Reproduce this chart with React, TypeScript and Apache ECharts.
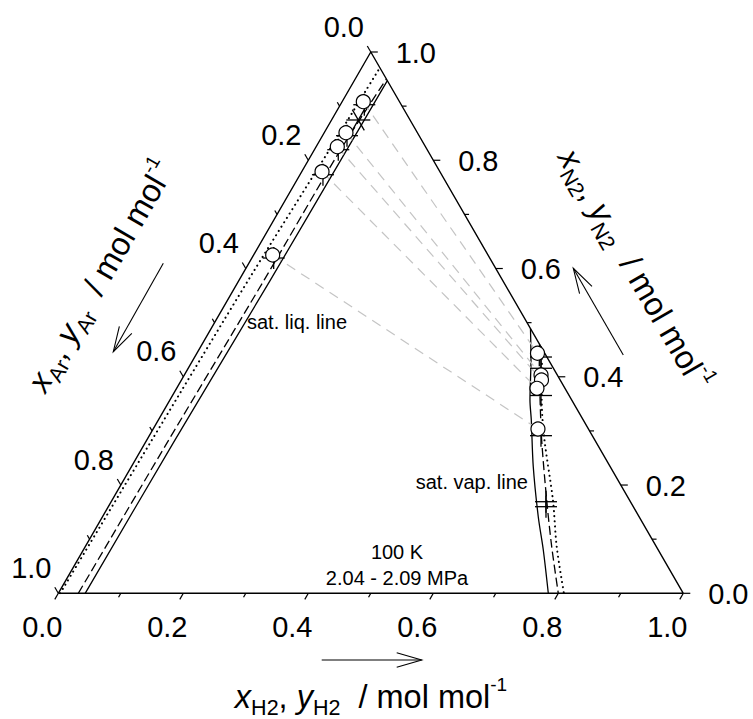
import React, { useEffect, useRef } from 'react';
import * as echarts from 'echarts';

const S3 = Math.sqrt(3) / 2;
const FONT = '"Liberation Sans", Arial, Helvetica, sans-serif';

// Ternary axis ticks (fractions) and labels
const TICK_VALUES = [0, 0.1, 0.2, 0.3, 0.4, 0.5, 0.6, 0.7, 0.8, 0.9, 1.0];
const TICK_LABELS = ['0.0', '', '0.2', '', '0.4', '', '0.6', '', '0.8', '', '1.0'];

// Measured data (circles): liquid x and vapour y, given as [H2, N2] mole fractions
const LIQ_H2 = [0.0339, 0.0348, 0.0339, 0.0325, 0.0305];
const LIQ_N2 = [0.9082, 0.8509, 0.825, 0.7789, 0.625];
const VAP_H2 = [0.545, 0.5707, 0.5761, 0.5765, 0.6157];
const VAP_N2 = [0.4434, 0.4033, 0.394, 0.3787, 0.3035];

// Second data set ("+" markers)
const PLUS_LIQ_H2 = [0.0383, 0.0392, 0.0382, 0.0368, 0.0349];
const PLUS_LIQ_N2 = [0.9026, 0.8454, 0.8195, 0.7733, 0.6194];
const PLUS_VAP_H2 = [0.554, 0.5645, 0.5896, 0.6267, 0.6957, 0.7003];
const PLUS_VAP_N2 = [0.4365, 0.4157, 0.3654, 0.2912, 0.1692, 0.16];

// Third data set (asterisk marker)
const STAR_H2 = [0.0428];
const STAR_N2 = [0.8744];

// Saturated liquid lines (three models)
const LIQ_SOLID_H2 = [0.043, 0.045, 0.05, 0.052, 0.053];
const LIQ_SOLID_N2 = [0, 0.277, 0.58, 0.82, 0.947];
const LIQ_DASH_H2 = [0.032, 0.035, 0.04, 0.042, 0.05];
const LIQ_DASH_N2 = [0, 0.277, 0.58, 0.82, 0.95];
const LIQ_DOT_H2 = [0.003, 0.008, 0.015, 0.024, 0.029];
const LIQ_DOT_N2 = [0, 0.277, 0.588, 0.816, 0.971];

// Saturated vapour lines (three models)
const VAP_SOLID_H2 = [0.511, 0.5408, 0.5761, 0.5967, 0.643, 0.6972, 0.736, 0.784];
const VAP_SOLID_N2 = [0.489, 0.431, 0.3571, 0.3202, 0.2339, 0.1415, 0.08, 0];
const VAP_DASH_H2 = [0.54, 0.5578, 0.5891, 0.6318, 0.6952, 0.7464, 0.8];
const VAP_DASH_N2 = [0.46, 0.4236, 0.3632, 0.2832, 0.1724, 0.0861, 0];
const VAP_DOT_H2 = [0.548, 0.5948, 0.6344, 0.7052, 0.7544, 0.809];
const VAP_DOT_N2 = [0.452, 0.3573, 0.2863, 0.1724, 0.0861, 0];

const toXY = (h: number, n: number) => [h + n / 2, n * S3];
const pts = (H: number[], N: number[]) => H.map((h, i) => toXY(h, N[i]));

const RICH = {
  i: { fontFamily: FONT, fontSize: 32.5, fontStyle: 'italic', lineHeight: 44, verticalAlign: 'middle' },
  n: { fontFamily: FONT, fontSize: 32.5, lineHeight: 44, verticalAlign: 'middle' },
  s: { fontFamily: FONT, fontSize: 21.5, lineHeight: 21, verticalAlign: 'bottom' },
  p: { fontFamily: FONT, fontSize: 19, lineHeight: 17, verticalAlign: 'top' },
};

function lineSeries(data: number[][], type: any, width = 1.3, round = false) {
  return {
    type: 'line',
    data,
    symbol: 'none',
    smooth: 0.3,
    silent: true,
    z: 2,
    lineStyle: { color: '#000', width, type, cap: round ? 'round' : 'butt' },
  };
}

function arrow(x1: number, y1: number, x2: number, y2: number) {
  const ang = Math.atan2(y2 - y1, x2 - x1);
  const L = 26;
  const a = (16 * Math.PI) / 180;
  const st = { stroke: '#000', lineWidth: 1.1 };
  return [
    { type: 'line', shape: { x1, y1, x2, y2 }, style: st, silent: true },
    {
      type: 'polyline',
      shape: {
        points: [
          [x2 - L * Math.cos(ang - a), y2 - L * Math.sin(ang - a)],
          [x2, y2],
          [x2 - L * Math.cos(ang + a), y2 - L * Math.sin(ang + a)],
        ],
      },
      style: { ...st, fill: 'none' },
      silent: true,
    },
  ];
}

function tickSeries(pos: (t: number) => number[], dir: number[], off: number[]) {
  return {
    type: 'custom',
    clip: false,
    silent: true,
    z: 3,
    data: TICK_VALUES.map((v) => [v, 0]),
    renderItem: (params: any, api: any) => {
      const t = api.value(0);
      const i = params.dataIndex;
      const p = api.coord(pos(t));
      const major = i % 2 === 0;
      const len = major ? 7 : 4.5;
      const children: any[] = [
        {
          type: 'line',
          shape: { x1: p[0], y1: p[1], x2: p[0] + dir[0] * len, y2: p[1] + dir[1] * len },
          style: { stroke: '#000', lineWidth: 1.2 },
        },
      ];
      if (TICK_LABELS[i]) {
        children.push({
          type: 'text',
          x: p[0] + off[0],
          y: p[1] + off[1],
          style: {
            text: TICK_LABELS[i],
            fill: '#000',
            fontSize: 29,
            fontFamily: FONT,
            align: 'center',
            verticalAlign: 'middle',
          },
        });
      }
      return { type: 'group', children };
    },
  };
}

function buildOption() {
  const plusData = [...pts(PLUS_LIQ_H2, PLUS_LIQ_N2), ...pts(PLUS_VAP_H2, PLUS_VAP_N2)];
  const tieData = LIQ_H2.map((h, i) => [...toXY(h, LIQ_N2[i]), ...toXY(VAP_H2[i], VAP_N2[i])]);
  const circleData = [...pts(LIQ_H2, LIQ_N2), ...pts(VAP_H2, VAP_N2)];

  return {
    animation: false,
    backgroundColor: '#fff',
    grid: { left: 58.3, right: 69.7, top: 52, bottom: 125.7 },
    xAxis: { type: 'value', min: 0, max: 1, show: false },
    yAxis: { type: 'value', min: 0, max: S3, show: false },
    series: [
      {
        type: 'line',
        data: [[0, 0], [1, 0], [0.5, S3], [0, 0]],
        symbol: 'none',
        silent: true,
        z: 2,
        lineStyle: { color: '#000', width: 1.4 },
      },
      lineSeries(pts(LIQ_SOLID_H2, LIQ_SOLID_N2), 'solid'),
      lineSeries(pts(LIQ_DASH_H2, LIQ_DASH_N2), [9, 4]),
      lineSeries(pts(LIQ_DOT_H2, LIQ_DOT_N2), [0.1, 5], 2, true),
      lineSeries(pts(VAP_SOLID_H2, VAP_SOLID_N2), 'solid'),
      lineSeries(pts(VAP_DASH_H2, VAP_DASH_N2), [9, 4]),
      lineSeries(pts(VAP_DOT_H2, VAP_DOT_N2), [0.1, 5], 2, true),
      {
        type: 'custom',
        clip: false,
        silent: true,
        z: 3,
        data: tieData,
        renderItem: (_p: any, api: any) => {
          const a = api.coord([api.value(0), api.value(1)]);
          const b = api.coord([api.value(2), api.value(3)]);
          return {
            type: 'line',
            shape: { x1: a[0], y1: a[1], x2: b[0], y2: b[1] },
            style: { stroke: '#c4c4c4', lineWidth: 1.2, lineDash: [10, 7] },
          };
        },
      },
      tickSeries((t) => toXY(t, 0), [-0.5, S3], [-16, 34]),
      tickSeries((t) => toXY(0, 1 - t), [-0.5, -S3], [-27, -25.5]),
      tickSeries((t) => toXY(1 - t, t), [1, 0], [45, 0.5]),
      {
        type: 'custom',
        clip: false,
        silent: true,
        z: 4,
        data: plusData,
        renderItem: (_p: any, api: any) => {
          const c = api.coord([api.value(0), api.value(1)]);
          const st = { stroke: '#000', lineWidth: 1.3 };
          return {
            type: 'group',
            children: [
              { type: 'line', shape: { x1: c[0] - 11, y1: c[1], x2: c[0] + 11, y2: c[1] }, style: st },
              { type: 'line', shape: { x1: c[0], y1: c[1] - 11, x2: c[0], y2: c[1] + 11 }, style: st },
            ],
          };
        },
      },
      {
        type: 'custom',
        clip: false,
        silent: true,
        z: 4,
        data: pts(STAR_H2, STAR_N2),
        renderItem: (_p: any, api: any) => {
          const c = api.coord([api.value(0), api.value(1)]);
          const st = { stroke: '#000', lineWidth: 1.3 };
          const r = 12;
          return {
            type: 'group',
            children: [0, 60, 120].map((deg) => {
              const a = (deg * Math.PI) / 180;
              return {
                type: 'line',
                shape: {
                  x1: c[0] - r * Math.cos(a),
                  y1: c[1] - r * Math.sin(a),
                  x2: c[0] + r * Math.cos(a),
                  y2: c[1] + r * Math.sin(a),
                },
                style: st,
              };
            }),
          };
        },
      },
      {
        type: 'scatter',
        data: circleData,
        symbol: 'circle',
        symbolSize: 14,
        silent: true,
        z: 5,
        itemStyle: { color: '#fff', borderColor: '#000', borderWidth: 1.2, opacity: 1 },
      },
    ],
    graphic: [
      {
        type: 'text',
        x: 297,
        y: 322,
        style: { text: 'sat. liq. line', fill: '#000', fontSize: 20, fontFamily: FONT, align: 'center', verticalAlign: 'middle' },
      },
      {
        type: 'text',
        x: 528,
        y: 482,
        style: { text: 'sat. vap. line', fill: '#000', fontSize: 20, fontFamily: FONT, align: 'right', verticalAlign: 'middle' },
      },
      {
        type: 'text',
        x: 397,
        y: 552,
        style: { text: '100 K', fill: '#000', fontSize: 20, fontFamily: FONT, align: 'center', verticalAlign: 'middle' },
      },
      {
        type: 'text',
        x: 397,
        y: 578,
        style: { text: '2.04 - 2.09 MPa', fill: '#000', fontSize: 20, fontFamily: FONT, align: 'center', verticalAlign: 'middle' },
      },
      {
        type: 'text',
        x: 371,
        y: 697,
        style: {
          text: '{i|x}{s|H2}{n|, }{i|y}{s|H2}{n|  / mol mol}{p|-1}',
          fill: '#000',
          align: 'center',
          verticalAlign: 'middle',
          rich: RICH,
        },
      },
      {
        type: 'text',
        x: 101,
        y: 276,
        rotation: Math.PI / 3,
        style: {
          text: '{i|x}{s|Ar}{n|, }{i|y}{s|Ar}{n|  / mol mol}{p|-1}',
          fill: '#000',
          align: 'center',
          verticalAlign: 'middle',
          rich: RICH,
        },
      },
      {
        type: 'text',
        x: 634.5,
        y: 269.3,
        rotation: -Math.PI / 3,
        style: {
          text: '{i|x}{s|N2}{n|, }{i|y}{s|N2}{n|  / mol mol}{p|-1}',
          fill: '#000',
          align: 'center',
          verticalAlign: 'middle',
          rich: RICH,
        },
      },
      ...arrow(321.7, 660, 421.7, 660),
      ...arrow(163.3, 263.3, 113.3, 351.7),
      ...arrow(623.3, 355, 573.3, 268.3),
    ],
  };
}

export default function App() {
  const ref = useRef<HTMLDivElement>(null);
  useEffect(() => {
    if (!ref.current) return;
    const chart = echarts.init(ref.current, null, { renderer: 'svg' });
    chart.setOption(buildOption() as any);
    return () => chart.dispose();
  }, []);
  return (
    <div
      ref={ref}
      style={{ position: 'fixed', left: 0, top: 0, width: 753, height: 719, background: '#fff' }}
    />
  );
}
